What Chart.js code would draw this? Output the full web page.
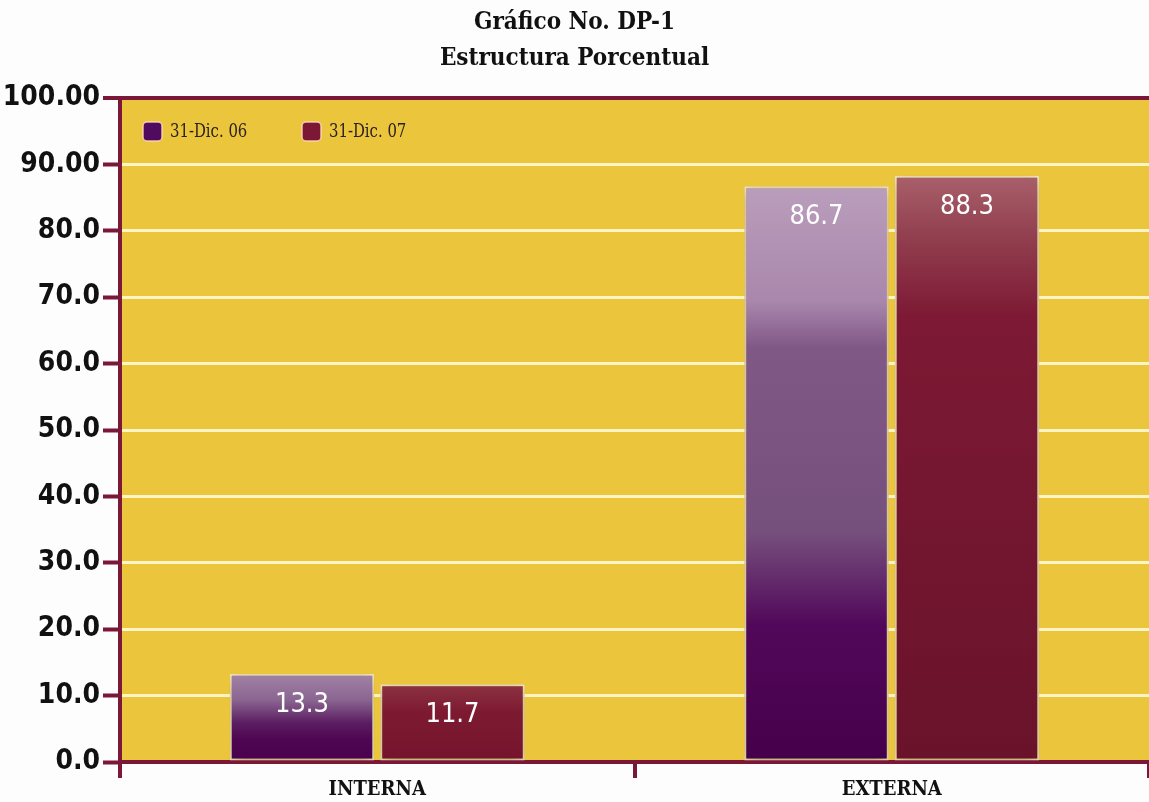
<!DOCTYPE html>
<html>
<head>
<meta charset="utf-8">
<script src="https://cdn.jsdelivr.net/npm/chart.js@4.4.1/dist/chart.umd.min.js"></script>
<style>
  html, body { margin: 0; padding: 0; background: #fdfdfd; }
  #wrap { width: 1149px; height: 802px; position: relative; }
</style>
</head>
<body>
<div id="wrap"><canvas id="c"></canvas></div>
<script>
const categories = ['INTERNA', 'EXTERNA'];
const seriesLabels = ['31-Dic. 06', '31-Dic. 07'];
const values06 = [13.3, 86.7];
const values07 = [11.7, 88.3];
const yTickLabels = ['0.0','10.0','20.0','30.0','40.0','50.0','60.0','70.0','80.0','90.00','100.00'];
const titleLines = ['Gráfico No. DP-1', 'Estructura Porcentual'];

const MAROON = '#7B1838';
const CREAM = '#FFF4C4';
const YELLOW = '#EBC63C';

function barGradient(ctx, kind) {
  const chart = ctx.chart;
  const ys = chart.scales.y;
  if (!ys || !chart.chartArea) return kind === 0 ? '#4E0050' : '#7A1530';
  const top = ys.getPixelForValue(ctx.raw);
  const base = ys.getPixelForValue(0);
  const h = base - top;
  const tall = h > 300;
  const c = chart.ctx;
  if (kind === 0) {
    const g = c.createLinearGradient(0, top, 0, base);
    if (tall) {
      g.addColorStop(0, '#BA9DBC');
      g.addColorStop(0.20, '#A987AC');
      g.addColorStop(0.28, '#805886');
      g.addColorStop(0.60, '#76507D');
      g.addColorStop(0.76, '#52085A');
      g.addColorStop(1, '#45004A');
    } else {
      g.addColorStop(0, '#A283A6');
      g.addColorStop(0.30, '#8A6590');
      g.addColorStop(0.55, '#5C1F63');
      g.addColorStop(0.75, '#4E0552');
      g.addColorStop(1, '#4A004E');
    }
    return g;
  } else {
    const g = c.createLinearGradient(0, top, 0, base);
    if (tall) {
      g.addColorStop(0, '#A9606A');
      g.addColorStop(0.10, '#924050');
      g.addColorStop(0.24, '#7D1934');
      g.addColorStop(1, '#69132A');
    } else {
      g.addColorStop(0, '#8C3342');
      g.addColorStop(0.35, '#7D1A31');
      g.addColorStop(1, '#74142C');
    }
    return g;
  }
}

const bgPlugin = {
  id: 'bg',
  beforeDraw(chart) {
    const {ctx, chartArea: a} = chart;
    ctx.save();
    ctx.fillStyle = YELLOW;
    ctx.fillRect(a.left, a.top, a.right - a.left, a.bottom - a.top);
    ctx.restore();
  }
};

const shadowPlugin = {
  id: 'shadow',
  beforeDatasetsDraw(chart) {
    const ctx = chart.ctx;
    ctx.save();
    ctx.shadowColor = 'rgba(60,30,0,0.35)';
    ctx.shadowBlur = 14;
    ctx.shadowOffsetX = 0;
    ctx.shadowOffsetY = 4;
  },
  afterDatasetsDraw(chart) {
    chart.ctx.restore();
  }
};

const valueLabels = {
  id: 'valueLabels',
  afterDatasetsDraw(chart) {
    const ctx = chart.ctx;
    ctx.save();
    ctx.fillStyle = '#FFFFFF';
    ctx.font = "27px 'DejaVu Sans Condensed', 'DejaVu Sans'";
    ctx.textAlign = 'center';
    ctx.textBaseline = 'middle';
    chart.data.datasets.forEach((ds, i) => {
      const meta = chart.getDatasetMeta(i);
      meta.data.forEach((el, j) => {
        ctx.fillText(ds.data[j].toFixed(1), el.x, el.y + 31);
      });
    });
    ctx.restore();
  }
};

const insideLegend = {
  id: 'insideLegend',
  afterDraw(chart) {
    const ctx = chart.ctx;
    const a = chart.chartArea;
    const offsets = [23, 182];
    const cy = a.top + 33;
    chart.data.datasets.forEach((ds, i) => {
      const x = a.left + offsets[i];
      ctx.save();
      ctx.beginPath();
      ctx.roundRect(x, cy - 9, 19, 19, 4);
      ctx.fillStyle = ds.legendColor;
      ctx.fill();
      ctx.lineWidth = 1.5;
      ctx.strokeStyle = 'rgba(255,220,190,0.85)';
      ctx.stroke();
      ctx.fillStyle = '#2a2020';
      ctx.font = "19px 'DejaVu Serif Condensed', 'DejaVu Serif'";
      ctx.textAlign = 'left';
      ctx.textBaseline = 'middle';
      ctx.translate(x + 27, cy + 1);
      ctx.scale(0.87, 1);
      ctx.fillText(ds.label, 0, 0);
      ctx.restore();
    });
  }
};

new Chart(document.getElementById('c'), {
  type: 'bar',
  data: {
    labels: categories,
    datasets: [
      {
        label: seriesLabels[0],
        data: values06,
        legendColor: '#500A5E',
        backgroundColor: (ctx) => barGradient(ctx, 0),
        borderColor: '#F3E6C2',
        borderWidth: 2,
        borderSkipped: false,
        categoryPercentage: 0.585,
        barPercentage: 0.96
      },
      {
        label: seriesLabels[1],
        data: values07,
        legendColor: '#7D1736',
        backgroundColor: (ctx) => barGradient(ctx, 1),
        borderColor: '#F3E6C2',
        borderWidth: 2,
        borderSkipped: false,
        categoryPercentage: 0.585,
        barPercentage: 0.96
      }
    ]
  },
  options: {
    responsive: true,
    maintainAspectRatio: false,
    animation: false,
    layout: { padding: { left: 0, right: 0, top: 0, bottom: 0 } },
    plugins: {
      legend: { display: false },
      tooltip: { enabled: false },
      title: {
        display: true,
        text: titleLines,
        color: '#111',
        font: { family: "'DejaVu Serif Condensed', 'DejaVu Serif'", size: 24, weight: 'bold', lineHeight: 1.5 },
        padding: { top: 5, bottom: 21 }
      }
    },
    scales: {
      x: {
        grid: {
          offset: true,
          drawOnChartArea: false,
          color: MAROON,
          lineWidth: 4,
          tickLength: 16
        },
        border: { display: true, color: MAROON, width: 4 },
        ticks: {
          color: '#111',
          padding: 0,
          font: { family: "'DejaVu Serif Condensed', 'DejaVu Serif'", size: 20, weight: 'bold' }
        },
        afterFit(s) { s.height = 40; }
      },
      y: {
        min: 0,
        max: 100,
        ticks: {
          stepSize: 10,
          color: '#111',
          padding: 3,
          font: { family: "'DejaVu Sans Condensed', 'DejaVu Sans'", size: 28, weight: 'bold' },
          callback: (v, i) => yTickLabels[i]
        },
        grid: {
          color: (ctx) => ctx.tick && ctx.tick.value === 100 ? MAROON : (ctx.tick && ctx.tick.value === 0 ? 'rgba(0,0,0,0)' : CREAM),
          lineWidth: (ctx) => ctx.tick && ctx.tick.value === 100 ? 4 : 3,
          tickColor: MAROON,
          tickWidth: 4,
          tickLength: 17
        },
        border: { display: true, color: MAROON, width: 4 },
        afterFit(s) { s.width = 120; }
      }
    }
  },
  plugins: [bgPlugin, shadowPlugin, valueLabels, insideLegend]
});
</script>
</body>
</html>
